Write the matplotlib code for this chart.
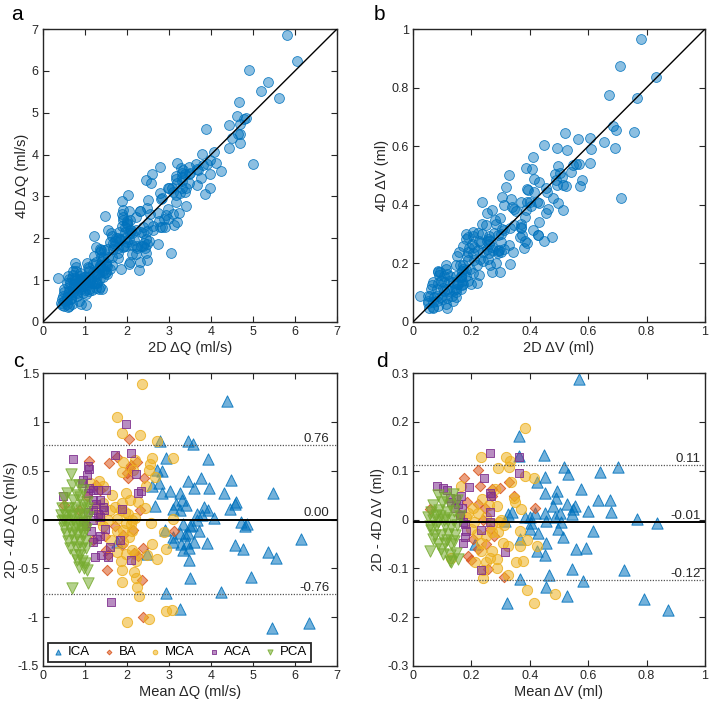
import numpy as np
import matplotlib
matplotlib.use("Agg")
import matplotlib.pyplot as plt

plt.rcParams['font.family'] = ['Liberation Sans', 'DejaVu Sans']

# ---------------- Flow (Q) data: Bland-Altman mean / difference per vessel ----------------
ica_q_mean = [4.39, 2.79, 3.45, 3.58, 2.93, 3.92, 2.71, 2.84, 2.59, 2.75, 2.83, 3.02, 3.25, 3.46, 3.75,
              3.60, 3.95, 4.48, 4.30, 4.59, 4.56, 4.45, 5.48, 2.67, 3.10, 3.17, 3.30, 3.25, 3.40, 3.84,
              3.92, 3.66, 3.78, 4.06, 3.66, 3.34, 3.50, 3.54, 4.71, 4.85, 4.81, 2.90, 3.10, 3.26, 3.38,
              3.46, 3.71, 3.09, 3.28, 3.44, 3.60, 3.90, 3.33, 3.48, 4.57, 4.77, 5.35, 5.55, 6.14, 3.48,
              3.50, 4.95, 2.94, 4.24, 3.25, 5.46, 6.33, 1.77, 2.48]
ica_q_diff = [1.21, 0.80, 0.80, 0.77, 0.63, 0.62, 0.51, 0.50, 0.34, 0.37, 0.27, 0.29, 0.27, 0.39, 0.43,
              0.32, 0.32, 0.40, 0.27, 0.18, 0.16, 0.11, 0.27, 0.14, 0.11, 0.16, 0.20, 0.10, 0.15, 0.13,
              0.10, 0.06, 0.05, 0.02, 0.00, -0.05, -0.07, -0.06, -0.03, -0.05, -0.07, -0.11, -0.18, -0.14, -0.16,
              -0.14, -0.12, -0.23, -0.25, -0.24, -0.23, -0.24, -0.31, -0.29, -0.26, -0.30, -0.33, -0.39, -0.20, -0.41,
              -0.60, -0.59, -0.75, -0.74, -0.92, -1.11, -1.06, -0.23, -0.35]

ba_q_mean = [2.05, 1.10, 1.56, 1.75, 2.23, 2.07, 2.00, 2.03, 2.40, 2.10, 2.32, 1.35, 0.50, 1.05, 1.35,
             1.71, 1.47, 1.91, 1.87, 1.51, 1.55, 1.53, 2.17, 2.14, 2.37, 2.25, 2.35, 2.39, 3.13, 1.19,
             1.25, 1.00, 0.85]
ba_q_diff = [0.82, 0.60, 0.58, 0.64, 0.59, 0.53, 0.48, 0.42, 0.42, 0.56, 0.10, 0.30, 0.15, 0.24, 0.06,
             -0.07, -0.17, -0.16, -0.26, -0.31, -0.36, -0.52, -0.34, -0.11, -0.29, -0.37, -0.62, -1.00, -0.12, -0.21,
             0.35, -0.05, 0.10]

mca_q_mean = [2.35, 1.77, 1.87, 2.31, 2.71, 3.09, 2.59, 2.55, 2.53, 2.67, 2.18, 2.14, 1.91, 1.87, 1.33,
              1.43, 2.46, 1.65, 1.98, 2.06, 2.43, 1.71, 1.89, 1.85, 2.02, 1.77, 1.55, 2.13, 1.98, 3.10,
              2.56, 2.10, 1.90, 2.13, 2.87, 2.59, 2.94, 1.63, 1.90, 1.98, 1.75, 2.11, 1.85, 1.87, 1.87,
              2.18, 2.21, 2.48, 2.71, 2.17, 2.21, 2.23, 2.29, 2.01, 2.53, 2.93, 3.06, 1.11, 1.43, 1.23,
              1.35, 1.43, 1.60, 2.25, 1.95, 2.20, 1.75, 2.05]
mca_q_diff = [1.39, 1.05, 0.89, 0.87, 0.80, 0.63, 0.63, 0.57, 0.51, 0.44, 0.61, 0.51, 0.59, 0.49, 0.39,
              0.34, 0.34, 0.25, 0.27, 0.20, 0.12, 0.13, 0.17, 0.10, 0.06, 0.01, 0.00, 0.00, -0.04, 0.01,
              -0.04, -0.05, -0.11, -0.12, -0.13, -0.25, -0.30, -0.21, -0.23, -0.35, -0.33, -0.31, -0.43, -0.52, -0.64,
              -0.35, -0.42, -0.36, -0.40, -0.54, -0.60, -0.69, -0.78, -1.05, -1.02, -0.94, -0.93, 0.37, 0.17, 0.13,
              0.00, -0.07, 0.10, 0.18, 0.08, 0.02, -0.12, -0.18]

aca_q_mean = [0.71, 1.98, 1.71, 2.10, 1.07, 1.10, 1.04, 0.96, 0.92, 1.10, 1.20, 1.32, 1.50, 2.22, 2.25,
              2.33, 0.48, 1.07, 1.19, 1.35, 1.25, 1.43, 1.31, 1.87, 1.07, 1.20, 1.45, 1.19, 1.35, 1.03,
              1.47, 1.19, 1.35, 1.28, 1.59, 1.83, 1.23, 1.39, 1.55, 2.09, 1.63, 1.15, 0.95]
aca_q_diff = [0.62, 0.98, 0.66, 0.68, 0.55, 0.52, 0.46, 0.40, 0.37, 0.32, 0.30, 0.30, 0.30, 0.47, 0.27,
              0.29, 0.24, 0.27, 0.20, 0.20, 0.16, 0.13, 0.06, 0.11, 0.08, 0.10, 0.10, 0.00, 0.03, -0.07,
              -0.10, -0.23, -0.17, -0.20, -0.28, -0.21, -0.38, -0.36, -0.38, -0.41, -0.84, -0.12, -0.02]

pca_q_mean = [0.66, 0.85, 0.95, 0.68, 0.82, 0.56, 0.50, 0.72, 0.88, 1.04, 0.95, 0.45, 0.60, 0.75, 0.90,
              1.05, 0.42, 0.55, 0.68, 0.80, 0.95, 1.08, 0.45, 0.58, 0.72, 0.85, 1.00, 0.50, 0.63, 0.76,
              0.90, 1.02, 0.55, 0.68, 0.82, 0.95, 0.60, 0.73, 0.87, 1.00, 0.65, 0.78, 0.90, 1.02, 0.75,
              0.88, 0.82, 0.92, 1.00, 0.85, 0.97, 1.05, 1.08, 0.70, 0.50, 0.62, 0.78, 0.93]
pca_q_diff = [0.47, 0.35, 0.30, 0.35, 0.25, 0.27, 0.22, 0.20, 0.23, 0.18, 0.15, 0.12, 0.12, 0.12, 0.10,
              0.12, 0.05, 0.05, 0.04, 0.06, 0.05, 0.03, -0.02, -0.02, -0.01, -0.03, -0.02, -0.09, -0.08, -0.10,
              -0.08, -0.10, -0.15, -0.14, -0.16, -0.15, -0.22, -0.21, -0.23, -0.22, -0.29, -0.28, -0.30, -0.29, -0.36,
              -0.36, -0.41, -0.42, -0.45, -0.49, -0.50, -0.52, -0.65, -0.70, 0.00, 0.08, -0.05, -0.12]

# ---------------- Volume (V) data ----------------
ica_v_mean = [0.568, 0.362, 0.448, 0.362, 0.518, 0.531, 0.703, 0.642, 0.451, 0.423, 0.575, 0.494, 0.451, 0.674,
              0.634, 0.491, 0.480, 0.526, 0.554, 0.549, 0.600, 0.678, 0.543, 0.451, 0.417, 0.503, 0.486, 0.400,
              0.385, 0.326, 0.339, 0.766, 0.834, 0.457, 0.506, 0.314, 0.400, 0.429, 0.495, 0.617, 0.514, 0.366,
              0.454, 0.557, 0.594, 0.423, 0.451, 0.465, 0.543, 0.723, 0.366, 0.583, 0.457, 0.526, 0.323, 0.792,
              0.874, 0.213, 0.405]
ica_v_diff = [0.287, 0.172, 0.132, 0.131, 0.107, 0.093, 0.107, 0.098, 0.088, 0.076, 0.062, 0.059, 0.054, 0.040,
              0.040, 0.045, 0.028, 0.031, 0.028, 0.021, 0.017, 0.015, 0.011, 0.014, 0.014, 0.014, 0.006, 0.006,
              0.006, 0.011, 0.015, 0.002, -0.007, -0.003, -0.005, -0.003, -0.020, -0.027, -0.020, -0.024, -0.036, -0.039,
              -0.048, -0.061, -0.058, -0.065, -0.072, -0.113, -0.101, -0.104, -0.122, -0.126, -0.138, -0.157, -0.171, -0.163,
              -0.185, -0.051, -0.008]

ba_v_mean = [0.221, 0.175, 0.229, 0.297, 0.269, 0.329, 0.346, 0.419, 0.057, 0.186, 0.223, 0.248, 0.269, 0.240,
             0.278, 0.265, 0.189, 0.198, 0.223, 0.257, 0.312, 0.160, 0.205, 0.250]
ba_v_diff = [0.101, 0.086, 0.069, 0.065, 0.062, 0.076, 0.048, 0.024, 0.021, 0.036, 0.031, 0.024, 0.048, 0.000,
             -0.034, -0.020, -0.075, -0.082, -0.061, -0.101, -0.118, 0.010, -0.040, -0.050]

mca_v_mean = [0.383, 0.234, 0.317, 0.331, 0.329, 0.291, 0.385, 0.415, 0.163, 0.335, 0.280, 0.346, 0.237, 0.259,
              0.286, 0.351, 0.371, 0.206, 0.189, 0.223, 0.250, 0.294, 0.270, 0.310, 0.366, 0.389, 0.309, 0.326,
              0.366, 0.423, 0.251, 0.232, 0.234, 0.269, 0.263, 0.214, 0.251, 0.289, 0.240, 0.286, 0.354, 0.377,
              0.326, 0.240, 0.389, 0.486, 0.415, 0.131, 0.200, 0.220, 0.270, 0.290, 0.180, 0.210, 0.300]
mca_v_diff = [0.187, 0.127, 0.129, 0.120, 0.107, 0.105, 0.090, 0.084, 0.069, 0.076, 0.063, 0.045, 0.043, 0.029,
              0.028, 0.035, 0.022, 0.024, 0.014, 0.014, 0.005, -0.005, -0.010, -0.012, -0.024, -0.041, -0.048, -0.055,
              -0.055, -0.055, -0.034, -0.048, -0.065, -0.065, -0.079, -0.088, -0.088, -0.081, -0.103, -0.099, -0.088, -0.085,
              -0.113, -0.120, -0.144, -0.152, -0.171, -0.079, -0.020, -0.030, -0.025, -0.025, 0.005, -0.005, 0.000]

aca_v_mean = [0.265, 0.362, 0.362, 0.242, 0.082, 0.103, 0.116, 0.192, 0.163, 0.263, 0.266, 0.148, 0.154, 0.168,
              0.263, 0.263, 0.234, 0.177, 0.183, 0.177, 0.171, 0.314, 0.232, 0.131, 0.143, 0.160, 0.170, 0.125]
aca_v_diff = [0.137, 0.129, 0.095, 0.084, 0.068, 0.065, 0.060, 0.066, 0.048, 0.054, 0.048, 0.041, 0.031, 0.024,
              0.015, -0.005, -0.022, -0.010, -0.024, -0.035, -0.048, -0.067, -0.103, 0.035, 0.024, 0.010, -0.005, 0.045]

pca_v_mean = [0.086, 0.110, 0.137, 0.150, 0.100, 0.070, 0.125, 0.060, 0.090, 0.115, 0.140, 0.051, 0.068, 0.091,
              0.114, 0.137, 0.160, 0.057, 0.080, 0.108, 0.131, 0.152, 0.074, 0.097, 0.120, 0.143, 0.086, 0.108,
              0.131, 0.103, 0.126, 0.148, 0.128, 0.154, 0.057, 0.131, 0.070, 0.095, 0.062, 0.085, 0.118, 0.140,
              0.105, 0.078]
pca_v_diff = [0.051, 0.045, 0.052, 0.040, 0.035, 0.030, 0.030, 0.015, 0.020, 0.015, 0.018, 0.005, 0.000, 0.008,
              0.003, -0.002, 0.008, -0.013, -0.013, -0.013, -0.015, -0.012, -0.031, -0.031, -0.030, -0.031, -0.051, -0.048,
              -0.051, -0.070, -0.072, -0.068, -0.085, -0.080, -0.065, -0.088, -0.040, -0.060, -0.022, -0.005, -0.042, -0.045,
              0.000, 0.010]

vessels = ['ICA', 'BA', 'MCA', 'ACA', 'PCA']
q_stats = {'mean': 0.00, 'upper': 0.765, 'lower': -0.765}
q_labels = ['0.76', '0.00', '-0.76']
v_stats = {'mean': -0.005, 'upper': 0.112, 'lower': -0.123}
v_labels = ['0.11', '-0.01', '-0.12']

# ---------------- styling ----------------
colors = {'ICA': '#0072BD', 'BA': '#D95319', 'MCA': '#EDB120', 'ACA': '#7E2F8E', 'PCA': '#77AC30'}
markers = {'ICA': '^', 'BA': 'D', 'MCA': 'o', 'ACA': 's', 'PCA': 'v'}
sizes = {'ICA': 66, 'BA': 28, 'MCA': 54, 'ACA': 36, 'PCA': 66}
axcol = '#262626'

q_mean = {'ICA': ica_q_mean, 'BA': ba_q_mean, 'MCA': mca_q_mean, 'ACA': aca_q_mean, 'PCA': pca_q_mean}
q_diff = {'ICA': ica_q_diff, 'BA': ba_q_diff, 'MCA': mca_q_diff, 'ACA': aca_q_diff, 'PCA': pca_q_diff}
v_mean = {'ICA': ica_v_mean, 'BA': ba_v_mean, 'MCA': mca_v_mean, 'ACA': aca_v_mean, 'PCA': pca_v_mean}
v_diff = {'ICA': ica_v_diff, 'BA': ba_v_diff, 'MCA': mca_v_diff, 'ACA': aca_v_diff, 'PCA': pca_v_diff}

fig = plt.figure(figsize=(7.09, 7.02), dpi=100)
W, H = 709.0, 702.0
ax_a = fig.add_axes([43 / W, (H - 322) / H, 294 / W, 293 / H])
ax_b = fig.add_axes([413 / W, (H - 322) / H, 292 / W, 293 / H])
ax_c = fig.add_axes([43 / W, (H - 666) / H, 294 / W, 293 / H])
ax_d = fig.add_axes([413 / W, (H - 666) / H, 292 / W, 293 / H])


def style(ax):
    for s in ax.spines.values():
        s.set_color(axcol)
        s.set_linewidth(1.0)
    ax.tick_params(direction='in', top=True, right=True, length=4, width=0.8,
                   colors=axcol, labelsize=9, pad=3)
    for lbl in ax.get_xticklabels() + ax.get_yticklabels():
        lbl.set_color(axcol)


def collect(mean_d, diff_d):
    m = np.concatenate([np.asarray(mean_d[v], float) for v in vessels])
    d = np.concatenate([np.asarray(diff_d[v], float) for v in vessels])
    return m + d / 2.0, m - d / 2.0


face = (0.0, 0.447, 0.741, 0.45)
edge = (0.0, 0.447, 0.741, 0.85)
# Panel a
x2, x4 = collect(q_mean, q_diff)
ax_a.plot([0, 7], [0, 7], color='black', lw=1.0, zorder=3)
ax_a.scatter(x2, x4, s=50, facecolor=face, edgecolor=edge, linewidth=0.6, zorder=2)
ax_a.set_xlim(0, 7); ax_a.set_ylim(0, 7)
ax_a.set_xticks(range(8)); ax_a.set_yticks(range(8))
ax_a.set_xlabel('2D ΔQ (ml/s)', fontsize=10.5, color=axcol, labelpad=2)
ax_a.set_ylabel('4D ΔQ (ml/s)', fontsize=10.5, color=axcol, labelpad=2)
style(ax_a)

# Panel b
v2, v4 = collect(v_mean, v_diff)
ax_b.plot([0, 1], [0, 1], color='black', lw=1.0, zorder=3)
ax_b.scatter(v2, v4, s=50, facecolor=face, edgecolor=edge, linewidth=0.6, zorder=2)
ax_b.set_xlim(0, 1); ax_b.set_ylim(0, 1)
ticks = [0, 0.2, 0.4, 0.6, 0.8, 1]
ax_b.set_xticks(ticks); ax_b.set_yticks(ticks)
ax_b.set_xticklabels(['0', '0.2', '0.4', '0.6', '0.8', '1'])
ax_b.set_yticklabels(['0', '0.2', '0.4', '0.6', '0.8', '1'])
ax_b.set_xlabel('2D ΔV (ml)', fontsize=10.5, color=axcol, labelpad=2)
ax_b.set_ylabel('4D ΔV (ml)', fontsize=10.5, color=axcol, labelpad=2)
style(ax_b)


def ba_panel(ax, mean_d, diff_d, stats, labels, label_x):
    for v in vessels:
        rgb = matplotlib.colors.to_rgb(colors[v])
        ax.scatter(mean_d[v], diff_d[v], s=sizes[v], marker=markers[v],
                   facecolor=rgb + (0.55,), edgecolor=rgb + (0.85,), linewidth=0.7,
                   label=v, zorder=2)
    ax.axhline(stats['mean'], color='black', lw=1.4, zorder=3)
    ax.axhline(stats['upper'], color='#555555', lw=0.9, ls=(0, (1, 1.2)), zorder=3)
    ax.axhline(stats['lower'], color='#555555', lw=0.9, ls=(0, (1, 1.2)), zorder=3)
    for key, txt in zip(['upper', 'mean', 'lower'], labels):
        ax.text(label_x, stats[key], txt, ha='right', va='bottom', fontsize=9.5,
                color=axcol, zorder=4)


# Panel c
ba_panel(ax_c, q_mean, q_diff, q_stats, q_labels, 6.82)
ax_c.set_xlim(0, 7); ax_c.set_ylim(-1.5, 1.5)
ax_c.set_xticks(range(8))
ax_c.set_yticks([-1.5, -1, -0.5, 0, 0.5, 1, 1.5])
ax_c.set_yticklabels(['-1.5', '-1', '-0.5', '0', '0.5', '1', '1.5'])
ax_c.set_xlabel('Mean ΔQ (ml/s)', fontsize=10.5, color=axcol, labelpad=2)
ax_c.set_ylabel('2D - 4D ΔQ (ml/s)', fontsize=10.5, color=axcol, labelpad=0)
style(ax_c)
leg = ax_c.legend(loc='lower left', bbox_to_anchor=(0.018, 0.015), ncol=5, fontsize=9.5,
                  markerscale=0.45, handletextpad=0.3, columnspacing=1.0, handlelength=0.9,
                  borderpad=0.25, borderaxespad=0.0, fancybox=False, framealpha=1, edgecolor=axcol)
leg.get_frame().set_linewidth(1.3)

# Panel d
ba_panel(ax_d, v_mean, v_diff, v_stats, v_labels, 0.985)
ax_d.set_xlim(0, 1); ax_d.set_ylim(-0.3, 0.3)
ax_d.set_xticks(ticks)
ax_d.set_xticklabels(['0', '0.2', '0.4', '0.6', '0.8', '1'])
ax_d.set_yticks([-0.3, -0.2, -0.1, 0, 0.1, 0.2, 0.3])
ax_d.set_yticklabels(['-0.3', '-0.2', '-0.1', '0', '0.1', '0.2', '0.3'])
ax_d.set_xlabel('Mean ΔV (ml)', fontsize=10.5, color=axcol, labelpad=2)
ax_d.set_ylabel('2D - 4D ΔV (ml)', fontsize=10.5, color=axcol, labelpad=2)
style(ax_d)

# Panel letters
for x, y, t in [(11, 20, 'a'), (374, 20, 'b'), (13, 367, 'c'), (376, 367, 'd')]:
    fig.text(x / W, 1 - y / H, t, fontsize=15, color='black', ha='left', va='baseline')

fig.savefig('out.png', dpi=100)
